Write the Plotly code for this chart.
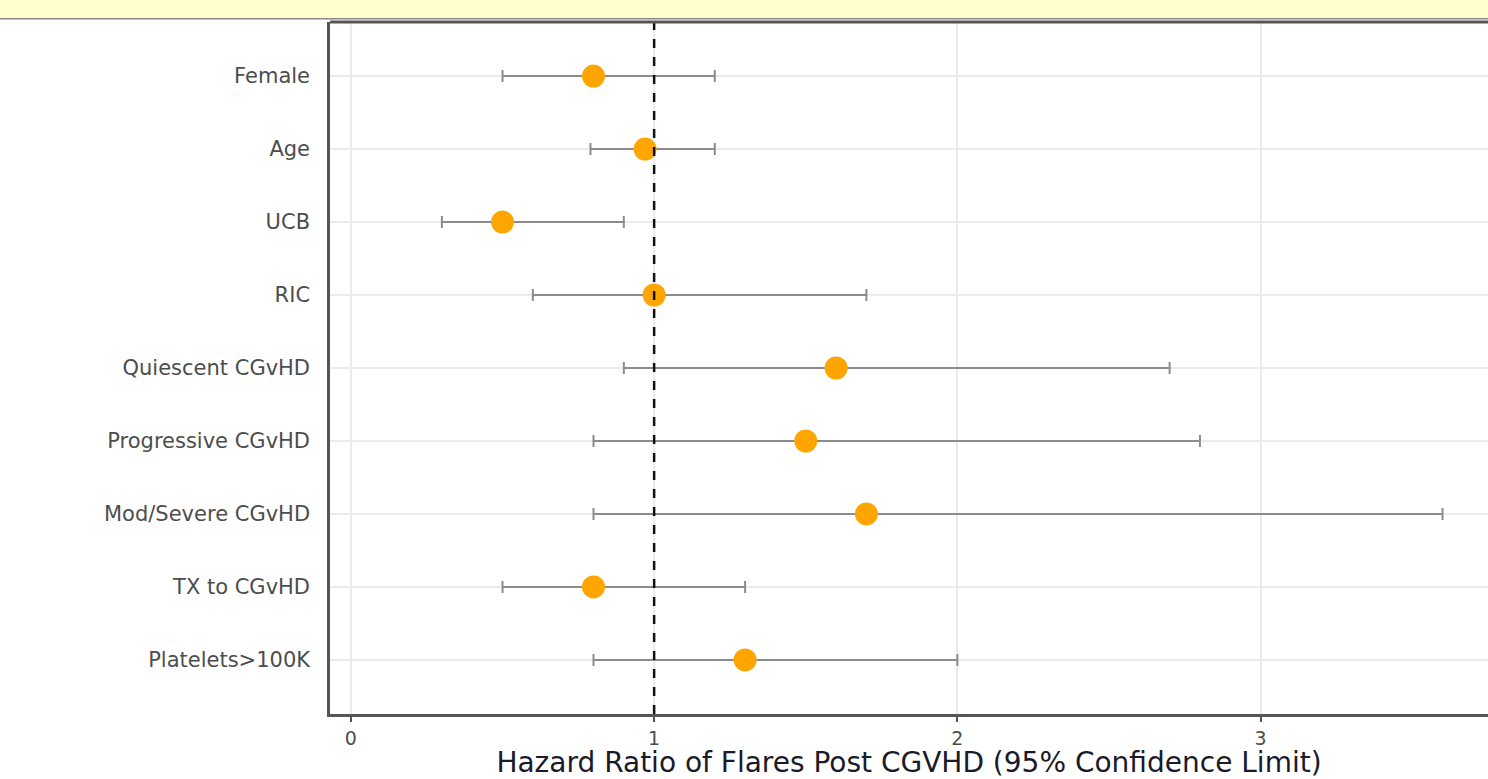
import plotly.graph_objects as go

categories = ["Female", "Age", "UCB", "RIC", "Quiescent CGvHD", "Progressive CGvHD",
              "Mod/Severe CGvHD", "TX to CGvHD", "Platelets>100K"]
hazard_ratio = [0.80, 0.97, 0.50, 1.00, 1.60, 1.50, 1.70, 0.80, 1.30]
ci_lower = [0.50, 0.79, 0.30, 0.60, 0.90, 0.80, 0.80, 0.50, 0.80]
ci_upper = [1.20, 1.20, 0.90, 1.70, 2.70, 2.80, 3.60, 1.30, 2.00]
x_ticks = [0, 1, 2, 3]

err_plus = [u - h for u, h in zip(ci_upper, hazard_ratio)]
err_minus = [h - l for h, l in zip(hazard_ratio, ci_lower)]

fig = go.Figure()
fig.add_trace(go.Scatter(
    x=hazard_ratio, y=categories, mode="markers",
    marker=dict(color="#FFA500", size=23, symbol="circle", line=dict(width=0)),
    error_x=dict(type="data", symmetric=False, array=err_plus, arrayminus=err_minus,
                 color="#8C8C8C", thickness=2, width=6),
    showlegend=False,
))

fig.add_vline(x=1, line=dict(color="#111111", width=2.5, dash="dash"))

# yellow band at top
fig.add_shape(type="rect", xref="paper", yref="paper", x0=-1, x1=1.1, y0=1.0046, y1=1.06,
              fillcolor="#FFFFCC", line=dict(width=0), layer="above")
fig.add_shape(type="line", xref="paper", yref="paper", x0=-1, x1=1.1, y0=1.0046, y1=1.0046,
              line=dict(color="#888888", width=1.5))
# top panel border
fig.add_shape(type="line", xref="paper", yref="paper", x0=0, x1=1.1, y0=1, y1=1,
              line=dict(color="#555555", width=3))

fig.update_layout(
    width=1488, height=779,
    margin=dict(l=330, r=0, t=22, b=65),
    paper_bgcolor="white", plot_bgcolor="white",
    font=dict(family="DejaVu Sans, Liberation Sans, sans-serif"),
    xaxis=dict(
        range=[-0.069, 3.75], tickvals=x_ticks, ticktext=[str(t) for t in x_ticks],
        showgrid=True, gridcolor="#EBEBEB", gridwidth=1.5, zeroline=False,
        showline=True, linecolor="#555555", linewidth=2.5,
        ticks="outside", ticklen=5, tickwidth=2, tickcolor="#555555",
        tickfont=dict(size=19, color="#4D4D4D"),
        title=dict(text="Hazard Ratio of Flares Post CGVHD (95% Confidence Limit)",
                   font=dict(size=28, color="#1A1A2A"), standoff=0),
    ),
    yaxis=dict(
        categoryorder="array", categoryarray=categories, autorange=False,
        range=[8.74, -0.74],
        showgrid=True, gridcolor="#EBEBEB", gridwidth=1.5, zeroline=False,
        showline=True, linecolor="#555555", linewidth=2.5,
        ticks="", ticklabelstandoff=13,
        tickfont=dict(size=21, color="#4D4D4D"),
    ),
)

fig.write_html("out.html", config={"displayModeBar": False},
               post_script="document.body.style.margin='0';document.body.style.overflow='hidden';")
